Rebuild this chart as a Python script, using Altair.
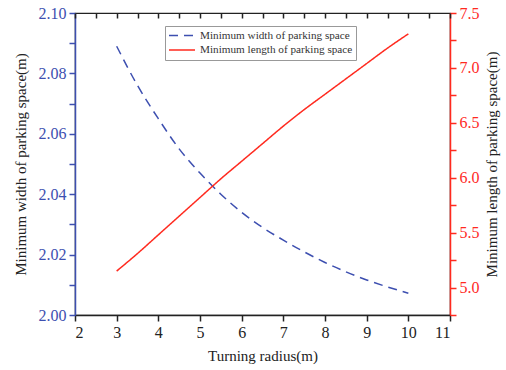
import altair as alt
import pandas as pd

# Turning radius (m)
radius = [3.0, 3.5, 4.0, 4.5, 5.0, 5.5, 6.0, 6.5, 7.0, 7.5, 8.0, 8.5, 9.0, 9.5, 10.0]
# Minimum width of parking space (m)
width_m = [2.089, 2.076, 2.065, 2.055, 2.047, 2.040, 2.034, 2.029, 2.0248, 2.0209,
           2.0174, 2.0143, 2.0116, 2.0093, 2.0072]
# Minimum length of parking space (m)
length_m = [5.15, 5.31, 5.48, 5.65, 5.82, 5.99, 6.15, 6.31, 6.47, 6.62,
            6.76, 6.90, 7.04, 7.18, 7.31]

W_NAME = "Minimum width of parking space"
L_NAME = "Minimum length of parking space"

df_w = pd.DataFrame({"r": radius, "v": width_m, "series": W_NAME})
df_l = pd.DataFrame({"r": radius, "v": length_m, "series": L_NAME})

BLUE = "#3d4fb0"
RED = "#ff2a1f"
INK = "#222222"
FONT = "Liberation Serif"

x_vals = [v / 2 for v in range(4, 23)]
left_vals = [round(2.0 + i * 0.01, 2) for i in range(11)]
right_vals = [4.75 + i * 0.25 for i in range(12)]

MAJ_X = "round(datum.value * 2) % 2 === 0"
MAJ_L = "round(datum.value * 100) % 2 === 0"
MAJ_R = "round(datum.value * 4) % 2 === 0"

color = alt.Color(
    "series:N",
    scale=alt.Scale(domain=[W_NAME, L_NAME], range=[BLUE, RED]),
    legend=alt.Legend(
        title=None, orient="none", legendX=90, legendY=13,
        symbolType="stroke", symbolSize=676, symbolStrokeWidth=1.5,
        labelFont=FONT, labelFontSize=11.2, labelColor="#333",
        strokeColor="#999", padding=3, clipHeight=13, rowPadding=1.5,
        fillColor="white", labelOffset=4,
    ),
)
dash = alt.StrokeDash(
    "series:N",
    scale=alt.Scale(domain=[W_NAME, L_NAME], range=[[9, 6], [1, 0]]),
    legend=None,
)

text_style = dict(labelFont=FONT, titleFont=FONT, labelFontSize=16, titleFontSize=15,
                  titleFontWeight="normal", titleColor=INK)

x_bottom = alt.X(
    "r:Q",
    scale=alt.Scale(domain=[2, 11], nice=False),
    axis=alt.Axis(
        values=x_vals, format="d", title="Turning radius(m)",
        labelExpr=f"{MAJ_X} ? datum.label : ''",
        tickSize=6, tickWidth=1.5, tickColor=INK, grid=False,
        domainColor=INK, domainWidth=1.5, labelColor=INK,
        labelPadding=3, titlePadding=8, **text_style,
    ),
)
x_top = alt.X(
    "r:Q",
    scale=alt.Scale(domain=[2, 11], nice=False),
    axis=alt.Axis(
        orient="top", values=x_vals, labels=False, title=None, domain=False,
        tickSize=5, tickWidth=1.5, tickColor=INK, grid=False,
        offset=-5, zindex=1,
    ),
)

y_left = alt.Y(
    "v:Q",
    scale=alt.Scale(domain=[2.0, 2.1], nice=False, zero=False),
    axis=alt.Axis(
        values=left_vals, format=".2f", title="Minimum width of parking space(m)",
        labelExpr=f"{MAJ_L} ? datum.label : ''",
        tickSize=6, tickWidth=1.5, tickColor=BLUE, grid=False,
        domainColor=BLUE, domainWidth=1.5, labelColor=BLUE,
        labelPadding=3, titlePadding=10, **text_style,
    ),
)
y_right = alt.Y(
    "v:Q",
    scale=alt.Scale(domain=[4.75, 7.5], nice=False, zero=False),
    axis=alt.Axis(
        orient="right", values=right_vals, format=".1f",
        title="Minimum length of parking space(m)",
        labelExpr=f"{MAJ_R} ? datum.label : ''",
        tickSize=6, tickWidth=1.5, tickColor=RED, grid=False,
        domainColor=RED, domainWidth=1.5, labelColor=RED,
        labelPadding=3, titlePadding=20, titleAngle=270, **text_style,
    ),
)

width_line = alt.Chart(df_w).mark_line(strokeWidth=1.5, interpolate="monotone").encode(
    x=x_bottom, y=y_left, color=color, strokeDash=dash
)
length_line = alt.Chart(df_l).mark_line(strokeWidth=1.5, interpolate="monotone").encode(
    x=x_top, y=y_right, color=color, strokeDash=dash
)

chart = (
    alt.layer(width_line, length_line)
    .resolve_scale(y="independent")
    .resolve_axis(x="independent", y="independent")
    .properties(
        width=375, height=302,
        autosize=alt.AutoSizeParams(type="none"),
        padding={"left": 75, "top": 13, "right": 56, "bottom": 55},
        background="white",
    )
    .configure_view(stroke=INK, strokeWidth=1.2)
)

chart.save("out.html", embed_options={"renderer": "svg", "actions": False})
